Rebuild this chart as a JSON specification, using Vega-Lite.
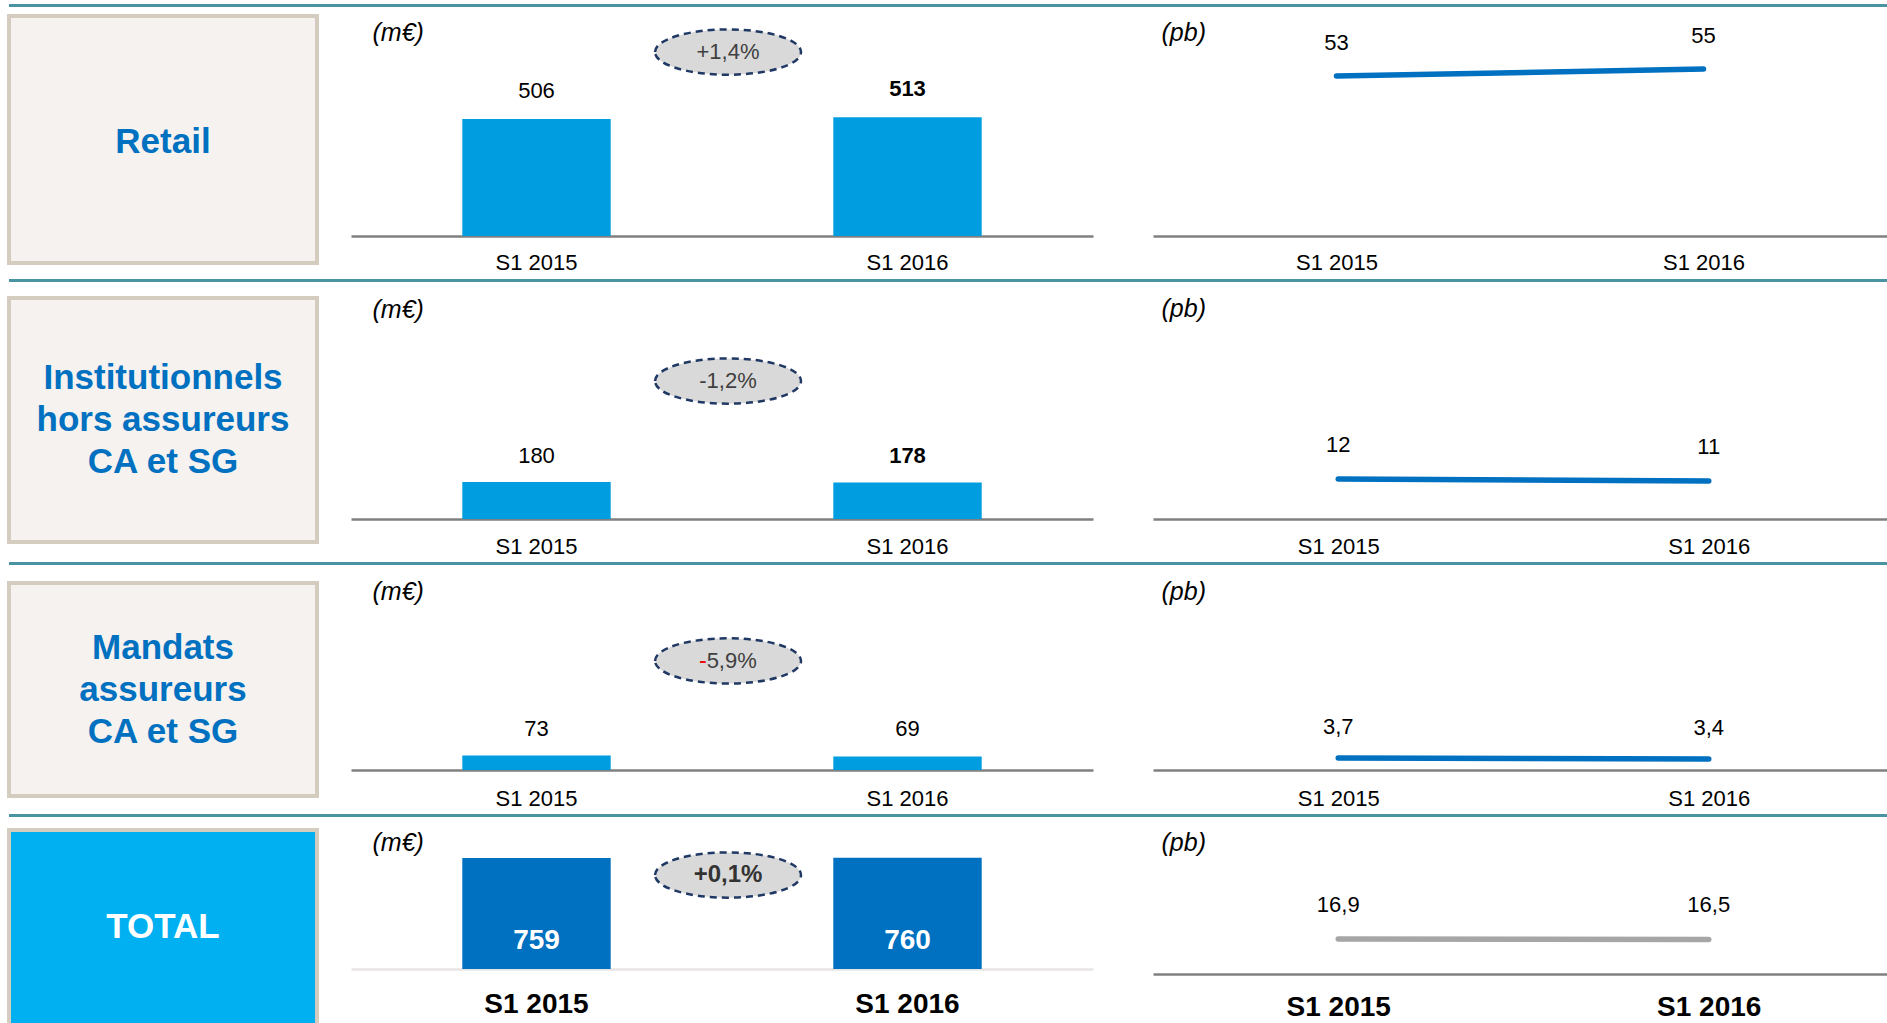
{
  "$schema": "https://vega.github.io/schema/vega-lite/v6.json",
  "padding": {"left": 7, "top": 4, "right": 0, "bottom": 0},
  "background": "white",
  "datasets": {
    "segments": [
      {"segment": "Retail", "label": "Retail"},
      {"segment": "Institutionnels", "label": "Institutionnels\nhors assureurs\nCA et SG"},
      {"segment": "Mandats", "label": "Mandats\nassureurs\nCA et SG"},
      {"segment": "Total", "label": "TOTAL"}
    ],
    "nbi": [
      {"segment": "Retail", "period": "S1 2015", "value": 506},
      {"segment": "Retail", "period": "S1 2016", "value": 513},
      {"segment": "Institutionnels", "period": "S1 2015", "value": 180},
      {"segment": "Institutionnels", "period": "S1 2016", "value": 178},
      {"segment": "Mandats", "period": "S1 2015", "value": 73},
      {"segment": "Mandats", "period": "S1 2016", "value": 69},
      {"segment": "Total", "period": "S1 2015", "value": 759},
      {"segment": "Total", "period": "S1 2016", "value": 760}
    ],
    "margin": [
      {"segment": "Retail", "period": "S1 2015", "pb": 53},
      {"segment": "Retail", "period": "S1 2016", "pb": 55},
      {"segment": "Institutionnels", "period": "S1 2015", "pb": 12},
      {"segment": "Institutionnels", "period": "S1 2016", "pb": 11},
      {"segment": "Mandats", "period": "S1 2015", "pb": 3.7},
      {"segment": "Mandats", "period": "S1 2016", "pb": 3.4},
      {"segment": "Total", "period": "S1 2015", "pb": 16.9},
      {"segment": "Total", "period": "S1 2016", "pb": 16.5}
    ],
    "change": [
      {"segment": "Retail", "change": 0.014},
      {"segment": "Institutionnels", "change": -0.012},
      {"segment": "Mandats", "change": -0.059},
      {"segment": "Total", "change": 0.001}
    ]
  },
  "config": {
    "view": {"stroke": null},
    "font": "Liberation Sans",
    "locale": {"number": {"decimal": ",", "thousands": " ", "grouping": [3], "currency": ["", " €"], "minus": "-"}},
    "axisX": {"domainColor": "#808080", "domainWidth": 2.5, "ticks": false, "tickSize": 0, "labelAngle": 0, "labelBaseline": "middle", "labelFontSize": 22, "labelColor": "#000000", "grid": false, "labelFont": "Liberation Sans"},
    "axisY": {"labels": false, "ticks": false, "domain": false, "grid": false, "titleAngle": 0, "titleAlign": "left", "titleBaseline": "middle", "titleFontStyle": "italic", "titleFontWeight": "normal", "titleFontSize": 25, "titleColor": "#000000", "titleFont": "Liberation Sans"},
    "text": {"font": "Liberation Sans", "fontSize": 22, "color": "#000000"}
  },
  "spacing": 0,
  "hconcat": [
    {
      "bounds": "flush", "spacing": 0,
      "vconcat": [
        {"width": 342, "height": 3, "view": {"fill": "#4a93a3", "stroke": null}, "data": {"values": [{}]}, "mark": {"type": "point", "opacity": 0, "size": 0}},
        {"width": 20, "height": 9, "data": {"values": [{}]}, "mark": {"type": "point", "opacity": 0, "size": 0}},
        {
          "width": 308, "height": 247,
          "view": {"fill": "#f5f2ef", "stroke": "#d5ccc0", "strokeWidth": 4},
          "data": {"name": "segments"},
          "transform": [{"filter": "datum.segment === 'Retail'"}],
          "mark": {"type": "text", "fontSize": 35, "fontWeight": "bold", "color": "#0070c0", "lineBreak": "\n", "lineHeight": 42, "align": "center", "baseline": "middle", "dy": 2},
          "encoding": {"text": {"field": "label"}}
        },
        {"width": 20, "height": 16, "data": {"values": [{}]}, "mark": {"type": "point", "opacity": 0, "size": 0}},
        {"width": 342, "height": 3, "view": {"fill": "#4a93a3", "stroke": null}, "data": {"values": [{}]}, "mark": {"type": "point", "opacity": 0, "size": 0}},
        {"width": 20, "height": 16, "data": {"values": [{}]}, "mark": {"type": "point", "opacity": 0, "size": 0}},
        {
          "width": 308, "height": 244,
          "view": {"fill": "#f5f2ef", "stroke": "#d5ccc0", "strokeWidth": 4},
          "data": {"name": "segments"},
          "transform": [{"filter": "datum.segment === 'Institutionnels'"}],
          "mark": {"type": "text", "fontSize": 35, "fontWeight": "bold", "color": "#0070c0", "lineBreak": "\n", "lineHeight": 42, "align": "center", "baseline": "middle", "dy": -42},
          "encoding": {"text": {"field": "label"}}
        },
        {"width": 20, "height": 20, "data": {"values": [{}]}, "mark": {"type": "point", "opacity": 0, "size": 0}},
        {"width": 342, "height": 3, "view": {"fill": "#4a93a3", "stroke": null}, "data": {"values": [{}]}, "mark": {"type": "point", "opacity": 0, "size": 0}},
        {"width": 20, "height": 18, "data": {"values": [{}]}, "mark": {"type": "point", "opacity": 0, "size": 0}},
        {
          "width": 308, "height": 213,
          "view": {"fill": "#f5f2ef", "stroke": "#d5ccc0", "strokeWidth": 4},
          "data": {"name": "segments"},
          "transform": [{"filter": "datum.segment === 'Mandats'"}],
          "mark": {"type": "text", "fontSize": 35, "fontWeight": "bold", "color": "#0070c0", "lineBreak": "\n", "lineHeight": 42, "align": "center", "baseline": "middle", "dy": -42},
          "encoding": {"text": {"field": "label"}}
        },
        {"width": 20, "height": 18, "data": {"values": [{}]}, "mark": {"type": "point", "opacity": 0, "size": 0}},
        {"width": 342, "height": 3, "view": {"fill": "#4a93a3", "stroke": null}, "data": {"values": [{}]}, "mark": {"type": "point", "opacity": 0, "size": 0}},
        {"width": 20, "height": 13, "data": {"values": [{}]}, "mark": {"type": "point", "opacity": 0, "size": 0}},
        {
          "width": 308, "height": 200,
          "view": {"fill": "#00b0f0", "stroke": "#d5ccc0", "strokeWidth": 4},
          "data": {"name": "segments"},
          "transform": [{"filter": "datum.segment === 'Total'"}],
          "mark": {"type": "text", "fontSize": 35, "fontWeight": "bold", "color": "#ffffff", "align": "center", "baseline": "middle", "dy": -3},
          "encoding": {"text": {"field": "label"}}
        }
      ]
    },
    {
      "bounds": "flush", "spacing": 0,
      "vconcat": [
        {"width": 802, "height": 3, "view": {"fill": "#4a93a3", "stroke": null}, "data": {"values": [{}]}, "mark": {"type": "point", "opacity": 0, "size": 0}},
        {"width": 20, "height": 9, "data": {"values": [{}]}, "mark": {"type": "point", "opacity": 0, "size": 0}},
        {
          "width": 742, "height": 220,
          "layer": [
            {
              "data": {"name": "nbi"},
              "transform": [{"filter": "datum.segment === 'Retail'"}],
              "mark": {"type": "bar", "color": "#009ee0"},
              "encoding": {
                "x": {"field": "period", "type": "nominal", "scale": {"paddingInner": 0.6, "paddingOuter": 0.3}, "axis": {"title": null, "labelPadding": 26}},
                "y": {"field": "value", "type": "quantitative", "scale": {"domain": [0, 951], "nice": false}, "axis": {"title": "(m€)", "titleX": 21, "titleY": 16}}
              }
            },
            {
              "data": {"name": "nbi"},
              "transform": [{"filter": "datum.segment === 'Retail' && datum.period === 'S1 2015'"}],
              "mark": {"type": "text", "dy": -28, "baseline": "middle"},
              "encoding": {
                "x": {"field": "period", "type": "nominal"},
                "y": {"field": "value", "type": "quantitative"},
                "text": {"field": "value", "format": "d"}
              }
            },
            {
              "data": {"name": "nbi"},
              "transform": [{"filter": "datum.segment === 'Retail' && datum.period === 'S1 2016'"}],
              "mark": {"type": "text", "dy": -28, "baseline": "middle", "fontWeight": "bold"},
              "encoding": {
                "x": {"field": "period", "type": "nominal"},
                "y": {"field": "value", "type": "quantitative"},
                "text": {"field": "value", "format": "d"}
              }
            },
            {
              "data": {"name": "change"},
              "transform": [{"filter": "datum.segment === 'Retail'"}],
              "mark": {"type": "point", "shape": "M-1,0A1,0.31 0 1,1 1,0A1,0.31 0 1,1 -1,0Z", "size": 21316, "filled": true, "fill": "#d9d9d9", "stroke": "#1f3864", "strokeWidth": 2.5, "strokeDash": [7, 5], "opacity": 1, "xOffset": 6},
              "encoding": {"y": {"datum": 795, "type": "quantitative"}}
            },
            {
              "data": {"name": "change"},
              "transform": [{"filter": "datum.segment === 'Retail'"}],
              "mark": {"type": "text", "dx": 6, "color": "#404040", "baseline": "middle", "align": "center"},
              "encoding": {"y": {"datum": 795, "type": "quantitative"}, "text": {"field": "change", "format": "+.1%"}}
            }
          ]
        },
        {"width": 20, "height": 43, "data": {"values": [{}]}, "mark": {"type": "point", "opacity": 0, "size": 0}},
        {"width": 802, "height": 3, "view": {"fill": "#4a93a3", "stroke": null}, "data": {"values": [{}]}, "mark": {"type": "point", "opacity": 0, "size": 0}},
        {"width": 20, "height": 16, "data": {"values": [{}]}, "mark": {"type": "point", "opacity": 0, "size": 0}},
        {
          "width": 742, "height": 221,
          "layer": [
            {
              "data": {"name": "nbi"},
              "transform": [{"filter": "datum.segment === 'Institutionnels'"}],
              "mark": {"type": "bar", "color": "#009ee0"},
              "encoding": {
                "x": {"field": "period", "type": "nominal", "scale": {"paddingInner": 0.6, "paddingOuter": 0.3}, "axis": {"title": null, "labelPadding": 27}},
                "y": {"field": "value", "type": "quantitative", "scale": {"domain": [0, 1075], "nice": false}, "axis": {"title": "(m€)", "titleX": 21, "titleY": 11}}
              }
            },
            {
              "data": {"name": "nbi"},
              "transform": [{"filter": "datum.segment === 'Institutionnels' && datum.period === 'S1 2015'"}],
              "mark": {"type": "text", "dy": -26, "baseline": "middle"},
              "encoding": {
                "x": {"field": "period", "type": "nominal"},
                "y": {"field": "value", "type": "quantitative"},
                "text": {"field": "value", "format": "d"}
              }
            },
            {
              "data": {"name": "nbi"},
              "transform": [{"filter": "datum.segment === 'Institutionnels' && datum.period === 'S1 2016'"}],
              "mark": {"type": "text", "dy": -26, "baseline": "middle", "fontWeight": "bold"},
              "encoding": {
                "x": {"field": "period", "type": "nominal"},
                "y": {"field": "value", "type": "quantitative"},
                "text": {"field": "value", "format": "d"}
              }
            },
            {
              "data": {"name": "change"},
              "transform": [{"filter": "datum.segment === 'Institutionnels'"}],
              "mark": {"type": "point", "shape": "M-1,0A1,0.31 0 1,1 1,0A1,0.31 0 1,1 -1,0Z", "size": 21316, "filled": true, "fill": "#d9d9d9", "stroke": "#1f3864", "strokeWidth": 2.5, "strokeDash": [7, 5], "opacity": 1, "xOffset": 6},
              "encoding": {"y": {"datum": 671, "type": "quantitative"}}
            },
            {
              "data": {"name": "change"},
              "transform": [{"filter": "datum.segment === 'Institutionnels'"}],
              "mark": {"type": "text", "dx": 6, "color": "#404040", "baseline": "middle", "align": "center"},
              "encoding": {"y": {"datum": 671, "type": "quantitative"}, "text": {"field": "change", "format": "+.1%"}}
            }
          ]
        },
        {"width": 20, "height": 43, "data": {"values": [{}]}, "mark": {"type": "point", "opacity": 0, "size": 0}},
        {"width": 802, "height": 3, "view": {"fill": "#4a93a3", "stroke": null}, "data": {"values": [{}]}, "mark": {"type": "point", "opacity": 0, "size": 0}},
        {"width": 20, "height": 18, "data": {"values": [{}]}, "mark": {"type": "point", "opacity": 0, "size": 0}},
        {
          "width": 742, "height": 187,
          "layer": [
            {
              "data": {"name": "nbi"},
              "transform": [{"filter": "datum.segment === 'Mandats'"}],
              "mark": {"type": "bar", "color": "#009ee0"},
              "encoding": {
                "x": {"field": "period", "type": "nominal", "scale": {"paddingInner": 0.6, "paddingOuter": 0.3}, "axis": {"title": null, "labelPadding": 28}},
                "y": {"field": "value", "type": "quantitative", "scale": {"domain": [0, 948], "nice": false}, "axis": {"title": "(m€)", "titleX": 21, "titleY": 8}}
              }
            },
            {
              "data": {"name": "nbi"},
              "transform": [{"filter": "datum.segment === 'Mandats'"}],
              "mark": {"type": "text", "dy": -27, "baseline": "middle"},
              "encoding": {
                "x": {"field": "period", "type": "nominal"},
                "y": {"field": "value", "type": "quantitative"},
                "text": {"field": "value", "format": "d"}
              }
            },
            {
              "data": {"name": "change"},
              "transform": [{"filter": "datum.segment === 'Mandats'"}],
              "mark": {"type": "point", "shape": "M-1,0A1,0.31 0 1,1 1,0A1,0.31 0 1,1 -1,0Z", "size": 21316, "filled": true, "fill": "#d9d9d9", "stroke": "#1f3864", "strokeWidth": 2.5, "strokeDash": [7, 5], "opacity": 1, "xOffset": 6},
              "encoding": {"y": {"datum": 553, "type": "quantitative"}}
            },
            {
              "data": {"name": "change"},
              "transform": [{"filter": "datum.segment === 'Mandats'"}],
              "mark": {"type": "text", "dx": -22.7, "color": "#404040", "baseline": "middle", "align": "left"},
              "encoding": {"y": {"datum": 553, "type": "quantitative"}, "text": {"field": "change", "format": "+.1%"}}
            },
            {
              "data": {"name": "change"},
              "transform": [{"filter": "datum.segment === 'Mandats'"}],
              "mark": {"type": "text", "dx": -22.7, "color": "#ff0000", "baseline": "middle", "align": "left"},
              "encoding": {"y": {"datum": 553, "type": "quantitative"}, "text": {"value": "-"}}
            }
          ]
        },
        {"width": 20, "height": 44, "data": {"values": [{}]}, "mark": {"type": "point", "opacity": 0, "size": 0}},
        {"width": 802, "height": 3, "view": {"fill": "#4a93a3", "stroke": null}, "data": {"values": [{}]}, "mark": {"type": "point", "opacity": 0, "size": 0}},
        {"width": 20, "height": 13, "data": {"values": [{}]}, "mark": {"type": "point", "opacity": 0, "size": 0}},
        {
          "width": 742, "height": 139,
          "layer": [
            {
              "data": {"name": "nbi"},
              "transform": [{"filter": "datum.segment === 'Total'"}],
              "mark": {"type": "bar", "color": "#0070c0"},
              "encoding": {
                "x": {"field": "period", "type": "nominal", "scale": {"paddingInner": 0.6, "paddingOuter": 0.3}, "axis": {"title": null, "labelPadding": 35, "labelFontSize": 28, "labelFontWeight": "bold", "domainColor": "#e8e4e4"}},
                "y": {"field": "value", "type": "quantitative", "scale": {"domain": [0, 950], "nice": false}, "axis": {"title": "(m€)", "titleX": 21, "titleY": 12}}
              }
            },
            {
              "data": {"name": "nbi"},
              "transform": [{"filter": "datum.segment === 'Total'"}],
              "mark": {"type": "text", "dy": -28, "baseline": "middle", "fontWeight": "bold", "fontSize": 28, "color": "#ffffff"},
              "encoding": {
                "x": {"field": "period", "type": "nominal"},
                "y": {"datum": 0, "type": "quantitative"},
                "text": {"field": "value", "format": "d"}
              }
            },
            {
              "data": {"name": "change"},
              "transform": [{"filter": "datum.segment === 'Total'"}],
              "mark": {"type": "point", "shape": "M-1,0A1,0.31 0 1,1 1,0A1,0.31 0 1,1 -1,0Z", "size": 21316, "filled": true, "fill": "#d9d9d9", "stroke": "#1f3864", "strokeWidth": 2.5, "strokeDash": [7, 5], "opacity": 1, "xOffset": 6},
              "encoding": {"y": {"datum": 642, "type": "quantitative"}}
            },
            {
              "data": {"name": "change"},
              "transform": [{"filter": "datum.segment === 'Total'"}],
              "mark": {"type": "text", "dx": 6, "color": "#333333", "baseline": "middle", "align": "center", "fontWeight": "bold", "fontSize": 24},
              "encoding": {"y": {"datum": 642, "type": "quantitative"}, "text": {"field": "change", "format": "+.1%"}}
            }
          ]
        }
      ]
    },
    {
      "bounds": "flush", "spacing": 0,
      "vconcat": [
        {"width": 734, "height": 3, "view": {"fill": "#4a93a3", "stroke": null}, "data": {"values": [{}]}, "mark": {"type": "point", "opacity": 0, "size": 0}},
        {"width": 20, "height": 9, "data": {"values": [{}]}, "mark": {"type": "point", "opacity": 0, "size": 0}},
        {
          "width": 734, "height": 220,
          "data": {"name": "margin"},
          "transform": [{"filter": "datum.segment === 'Retail'"}],
          "encoding": {
            "x": {"field": "period", "type": "nominal", "scale": {"type": "point", "padding": 0.5}, "axis": {"title": null, "labelPadding": 26}},
            "y": {"field": "pb", "type": "quantitative", "scale": {"domain": [7.29, 70.14], "nice": false, "zero": false}, "axis": {"title": "(pb)", "titleX": 8, "titleY": 16}}
          },
          "layer": [
            {"mark": {"type": "line", "color": "#0070c0", "strokeWidth": 5.5, "strokeCap": "round"}},
            {"mark": {"type": "text", "dy": -33, "baseline": "middle"}, "encoding": {"text": {"field": "pb", "format": "d"}}}
          ]
        },
        {"width": 20, "height": 43, "data": {"values": [{}]}, "mark": {"type": "point", "opacity": 0, "size": 0}},
        {"width": 734, "height": 3, "view": {"fill": "#4a93a3", "stroke": null}, "data": {"values": [{}]}, "mark": {"type": "point", "opacity": 0, "size": 0}},
        {"width": 20, "height": 16, "data": {"values": [{}]}, "mark": {"type": "point", "opacity": 0, "size": 0}},
        {
          "width": 741, "height": 221,
          "data": {"name": "margin"},
          "transform": [{"filter": "datum.segment === 'Institutionnels'"}],
          "encoding": {
            "x": {"field": "period", "type": "nominal", "scale": {"type": "point", "padding": 0.5}, "axis": {"title": null, "labelPadding": 27}},
            "y": {"field": "pb", "type": "quantitative", "scale": {"domain": [-8, 102.5], "nice": false, "zero": false}, "axis": {"title": "(pb)", "titleX": 8, "titleY": 10}}
          },
          "layer": [
            {"mark": {"type": "line", "color": "#0070c0", "strokeWidth": 5.5, "strokeCap": "round"}},
            {"mark": {"type": "text", "dy": -34, "baseline": "middle"}, "encoding": {"text": {"field": "pb", "format": "d"}}}
          ]
        },
        {"width": 20, "height": 43, "data": {"values": [{}]}, "mark": {"type": "point", "opacity": 0, "size": 0}},
        {"width": 734, "height": 3, "view": {"fill": "#4a93a3", "stroke": null}, "data": {"values": [{}]}, "mark": {"type": "point", "opacity": 0, "size": 0}},
        {"width": 20, "height": 18, "data": {"values": [{}]}, "mark": {"type": "point", "opacity": 0, "size": 0}},
        {
          "width": 741, "height": 187,
          "data": {"name": "margin"},
          "transform": [{"filter": "datum.segment === 'Mandats'"}],
          "encoding": {
            "x": {"field": "period", "type": "nominal", "scale": {"type": "point", "padding": 0.5}, "axis": {"title": null, "labelPadding": 28}},
            "y": {"field": "pb", "type": "quantitative", "scale": {"domain": [0.1, 56.2], "nice": false, "zero": false}, "axis": {"title": "(pb)", "titleX": 8, "titleY": 8}}
          },
          "layer": [
            {"mark": {"type": "line", "color": "#0070c0", "strokeWidth": 5.5, "strokeCap": "round"}},
            {"mark": {"type": "text", "dy": -31, "baseline": "middle"}, "encoding": {"text": {"field": "pb", "format": ".1f"}}}
          ]
        },
        {"width": 20, "height": 44, "data": {"values": [{}]}, "mark": {"type": "point", "opacity": 0, "size": 0}},
        {"width": 734, "height": 3, "view": {"fill": "#4a93a3", "stroke": null}, "data": {"values": [{}]}, "mark": {"type": "point", "opacity": 0, "size": 0}},
        {"width": 20, "height": 13, "data": {"values": [{}]}, "mark": {"type": "point", "opacity": 0, "size": 0}},
        {
          "width": 741, "height": 144,
          "data": {"name": "margin"},
          "transform": [{"filter": "datum.segment === 'Total'"}],
          "encoding": {
            "x": {"field": "period", "type": "nominal", "scale": {"type": "point", "padding": 0.5}, "axis": {"title": null, "labelPadding": 33, "labelFontSize": 28, "labelFontWeight": "bold"}},
            "y": {"field": "pb", "type": "quantitative", "scale": {"domain": [-18.1, 125.9], "nice": false, "zero": false}, "axis": {"title": "(pb)", "titleX": 8, "titleY": 12}}
          },
          "layer": [
            {"mark": {"type": "line", "color": "#a6a6a6", "strokeWidth": 5.5, "strokeCap": "round"}},
            {"mark": {"type": "text", "dy": -34, "baseline": "middle"}, "encoding": {"text": {"field": "pb", "format": ".1f"}}}
          ]
        }
      ]
    }
  ]
}
